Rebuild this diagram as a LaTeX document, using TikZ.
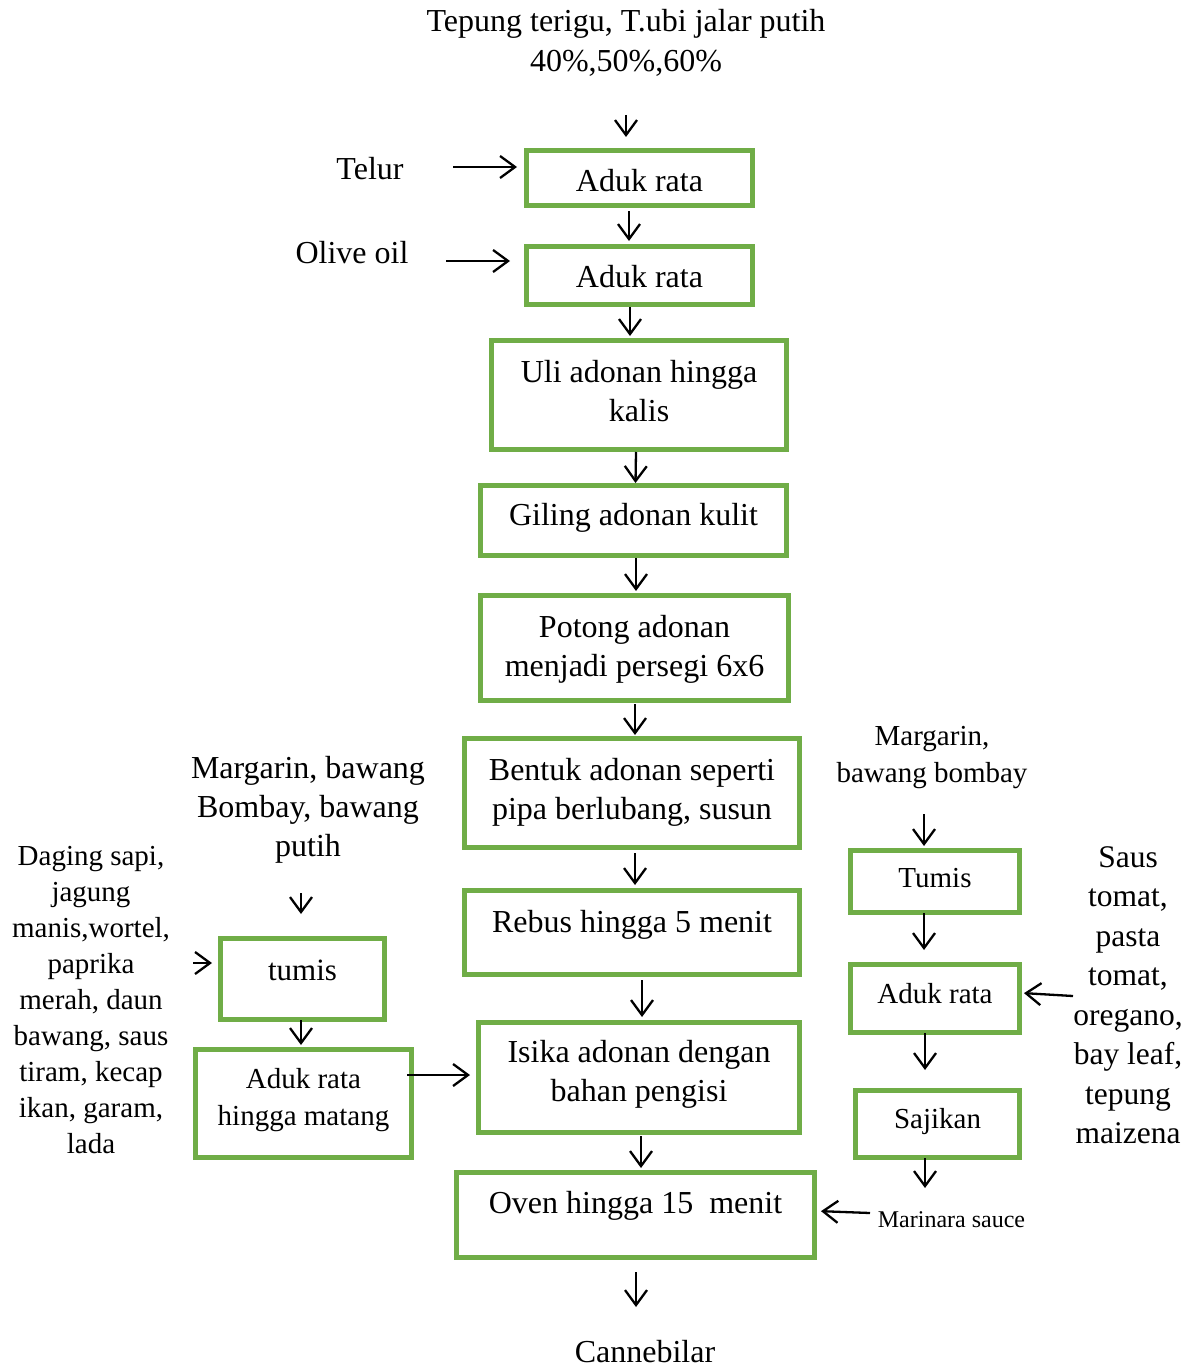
\documentclass[tikz,border=0pt]{standalone}
\usepackage{fontspec}
\setmainfont{Liberation Serif}
\usetikzlibrary{arrows.meta}
\definecolor{boxgreen}{HTML}{70AD47}
% centred lines whose baseline is that of the first line
\newcommand{\lns}[1]{\begin{tabular}[t]{@{}c@{}}#1\end{tabular}}
\begin{document}
\begin{tikzpicture}[x=1pt,y=-1pt,
  box/.style={draw=boxgreen, line width=5pt, inner sep=0pt},
  arr/.style={line width=2.3pt, -{Straight Barb[length=15pt,width=22pt]}},
  big/.style={font=\fontsize{32}{39}\selectfont},
  mid/.style={font=\fontsize{29}{37}\selectfont},
  txt/.style={anchor=base, inner sep=0pt},
]
\useasboundingbox (0,0) rectangle (1195,1367);

% ---------- main column ----------
\node[box, big, minimum width=226pt, minimum height=55pt, text height=28pt, text depth=0pt] (b1) at (639.5,178) {\lns{Aduk rata}};
\node[box, big, minimum width=226pt, minimum height=58pt, text height=23pt, text depth=0pt] (b2) at (639.5,275.5) {\lns{Aduk rata}};
\node[box, big, minimum width=295pt, minimum height=109pt, text height=0pt, text depth=26pt] (b3) at (639,395) {\lns{Uli adonan hingga\\kalis}};
\node[box, big, minimum width=306pt, minimum height=70pt, text height=9pt, text depth=0pt] (b4) at (633.5,520.5) {\lns{Giling adonan kulit}};
\node[box, big, minimum width=308pt, minimum height=105pt, text height=0pt, text depth=22pt] (b5) at (634.5,648) {\lns{Potong adonan\\menjadi persegi 6x6}};
\node[box, big, minimum width=335pt, minimum height=109pt, text height=0pt, text depth=26pt] (b6) at (632,793) {\lns{Bentuk adonan seperti\\pipa berlubang, susun}};
\node[box, big, minimum width=335pt, minimum height=84pt, text height=0pt, text depth=1pt] (b7) at (632,932.5) {\lns{Rebus hingga 5 menit}};
\node[box, big, minimum width=321pt, minimum height=110pt, text height=0pt, text depth=31pt] (b8) at (639,1077.5) {\lns{Isika adonan dengan\\bahan pengisi}};
\node[box, big, minimum width=358pt, minimum height=85pt, text height=0pt, text depth=4pt] (b9) at (635.5,1215) {\lns{Oven hingga 15~~menit}};

% ---------- left branch ----------
\node[box, font=\fontsize{31}{38}\selectfont, minimum width=164pt, minimum height=81pt, text height=2pt, text depth=0pt] (l1) at (302.5,979) {\lns{tumis}};
\node[box, mid, minimum width=216pt, minimum height=108pt, text height=0pt, text depth=31pt] (l2) at (303.5,1103.5) {\lns{Aduk rata\\hingga matang}};

% ---------- right branch ----------
\node[box, mid, minimum width=169pt, minimum height=62pt, text height=11pt, text depth=0pt] (r1) at (935,881.5) {\lns{Tumis}};
\node[box, mid, minimum width=169pt, minimum height=68pt, text height=9pt, text depth=0pt] (r2) at (935,998.5) {\lns{Aduk rata}};
\node[box, mid, minimum width=164pt, minimum height=67pt, text height=8pt, text depth=0pt] (r3) at (937.5,1124) {\lns{Sajikan}};

% ---------- ingredient texts ----------
\node[txt, font=\fontsize{32}{40}\selectfont] (title) at (626,32) {\lns{Tepung terigu, T.ubi jalar putih\\40\%,50\%,60\%}};
\node[txt, big] (telur) at (370,180) {Telur};
\node[txt, big] (olive) at (352,263) {Olive oil};
\node[txt, big] (margL) at (308,778) {\lns{Margarin, bawang\\Bombay, bawang\\putih}};
\node[txt, font=\fontsize{29}{36}\selectfont] (daging) at (91,865) {\lns{Daging sapi,\\jagung\\manis,wortel,\\paprika\\merah, daun\\bawang, saus\\tiram, kecap\\ikan, garam,\\lada}};
\node[txt, mid] (margR) at (932,745) {\lns{Margarin,\\bawang bombay}};
\node[txt, font=\fontsize{31.5}{39.5}\selectfont] (saus) at (1128,867) {\lns{Saus\\tomat,\\pasta\\tomat,\\oregano,\\bay leaf,\\tepung\\maizena}};
\node[txt, font=\fontsize{24}{29}\selectfont] (marinara) at (951.5,1227) {Marinara sauce};
\node[txt, big] (out) at (645,1362) {Cannebilar};

% free ends of the input arrows
\coordinate (sTitle) at (626,115);
\coordinate (sTelur) at (453,167);
\coordinate (sOlive) at (446,261);
\coordinate (sMargL) at (301,893);
\coordinate (sDaging) at (193,963);
\coordinate (sMargR) at (924,814);
\coordinate (sSaus) at (1073,996);
\coordinate (sMarinara) at (870,1213);
\coordinate (eMarinara) at (925,1188);
\coordinate (eOut) at (636,1307);

% ---------- connectors ----------
\draw[arr, shorten >=11pt] (sTitle) -- ([xshift=-13.5pt]b1.north);
\draw[arr, shorten >=7pt] (sTelur) -- ([yshift=11pt]b1.west);
\draw[arr, shorten >=14pt] (sOlive) -- ([yshift=14.5pt]b2.west);
\draw[arr, shorten <=3pt, shorten >=3pt] ([xshift=-10.5pt]b1.south) -- ([xshift=-10.5pt]b2.north);
\draw[arr, shorten >=2pt] ([xshift=-9.5pt]b2.south) -- ([xshift=-9pt]b3.north);
\draw[arr] ([xshift=-3pt]b3.south) -- ([xshift=2pt]b4.north);
\draw[arr, shorten >=2pt] ([xshift=2.5pt]b4.south) -- ([xshift=1.5pt]b5.north);
\draw[arr, shorten <=1pt, shorten >=1pt] ([xshift=0.5pt]b5.south) -- ([xshift=3pt]b6.north);
\draw[arr, shorten <=3pt, shorten >=3pt] ([xshift=3pt]b6.south) -- ([xshift=3pt]b7.north);
\draw[arr, shorten <=3pt, shorten >=3pt] ([xshift=10pt]b7.south) -- ([xshift=3pt]b8.north);
\draw[arr, shorten <=1pt, shorten >=2pt] ([xshift=2pt]b8.south) -- ([xshift=5.5pt]b9.north);
\draw[arr, shorten <=12pt] ([xshift=0.5pt]b9.south) -- (eOut);

\draw[arr, shorten >=22pt] (sMargL) -- ([xshift=-1.5pt]l1.north);
\draw[arr, shorten >=6pt] (sDaging) -- ([yshift=16pt]l1.west);
\draw[arr, shorten <=-2pt, shorten >=2pt] ([xshift=-1.5pt]l1.south) -- ([xshift=-2.5pt]l2.north);
\draw[arr, shorten <=-7pt, shorten >=6pt] ([yshift=28.5pt]l2.east) -- ([yshift=2.5pt]b8.west);

\draw[arr, shorten >=2pt] (sMargR) -- ([xshift=-11pt]r1.north);
\draw[arr, shorten <=-2pt, shorten >=12pt] ([xshift=-11pt]r1.south) -- ([xshift=-11pt]r2.north);
\draw[arr, shorten <=-2pt, shorten >=18pt] ([xshift=-10pt]r2.south) -- ([xshift=-12.5pt]r3.north);
\draw[arr, shorten >=2pt] (sSaus) -- ([yshift=5.5pt]r2.east);
\draw[arr, shorten <=-2pt] ([xshift=-12.5pt]r3.south) -- (eMarinara);
\draw[arr, shorten >=4pt] (sMarinara) -- ([yshift=4pt]b9.east);
\end{tikzpicture}
\end{document}
